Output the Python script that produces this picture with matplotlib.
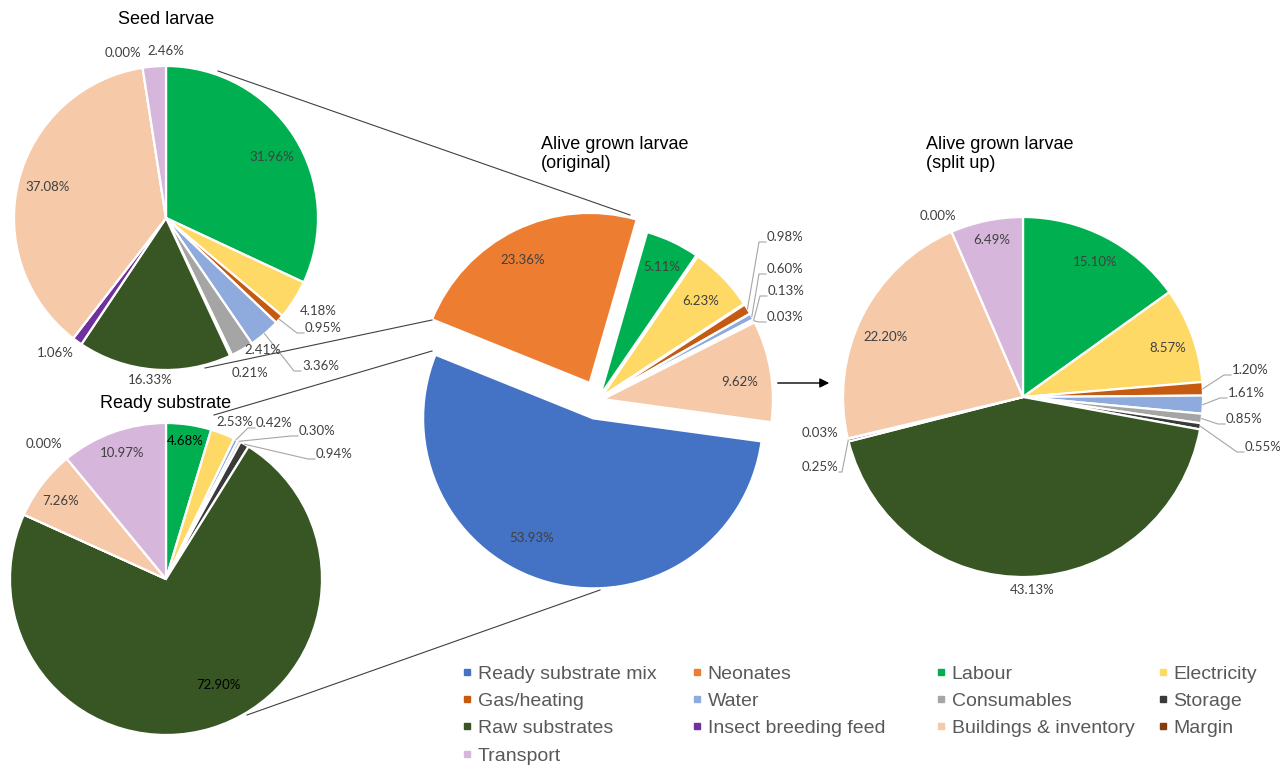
import numpy as np
import matplotlib
matplotlib.use("Agg")
import matplotlib.pyplot as plt
from matplotlib.lines import Line2D
from matplotlib.legend import Legend

W, H = 1280, 766

# cost categories, in the order the slices are drawn (clockwise)
categories = ["Ready substrate mix", "Neonates", "Labour", "Electricity", "Gas/heating",
              "Water", "Consumables", "Storage", "Raw substrates", "Insect breeding feed",
              "Other", "Buildings & inventory", "Margin", "Transport"]
colors = ["#4472C4", "#ED7D31", "#00B050", "#FFD966", "#C55A11",
          "#8FAADC", "#A5A5A5", "#3A3A3A", "#375623", "#7030A0",
          "#BDD7EE", "#F6C9A9", "#843C0C", "#D6B7DB"]

# shares in %  (None = category not in that product)
seed_larvae = [None, None, 31.96, 4.18, 0.95, 3.36, 2.41, 0.21, 16.33, 1.06, None, 37.08, 0.00, 2.46]
ready_substrate = [None, None, 4.68, 2.53, None, 0.42, 0.30, 0.94, 72.90, None, None, 7.26, 0.00, 10.97]
alive_original = [53.93, 23.36, 5.11, 6.23, 0.98, 0.60, 0.13, None, None, None, 0.03, 9.62, None, None]
alive_split = [None, None, 15.10, 8.57, 1.20, 1.61, 0.85, 0.55, 43.13, 0.25, 0.03, 22.20, 0.00, 6.49]

legend_order = ["Ready substrate mix", "Neonates", "Labour", "Electricity",
                "Gas/heating", "Water", "Consumables", "Storage",
                "Raw substrates", "Insect breeding feed", "Buildings & inventory", "Margin",
                "Transport"]

# label placement in pixels (x, y[, leader side])
seed_lbl = {"Labour": (272, 157), "Electricity": (318, 311), "Gas/heating": (305, 328, "L"),
            "Water": (302, 366, "L"), "Consumables": (263, 350), "Storage": (250, 373),
            "Raw substrates": (150, 380), "Insect breeding feed": (55, 353),
            "Buildings & inventory": (48, 187), "Margin": (123, 53), "Transport": (166, 51)}
ready_lbl = {"Labour": (185, 441), "Electricity": (235, 422), "Water": (256, 423, "L"),
             "Consumables": (299, 431, "L"), "Storage": (316, 454, "L"),
             "Raw substrates": (218, 685), "Buildings & inventory": (61, 501),
             "Margin": (44, 444), "Transport": (122, 453)}
orig_lbl = {"Ready substrate mix": (532, 538), "Neonates": (523, 260), "Labour": (662, 267),
            "Electricity": (701, 301), "Gas/heating": (767, 237, "L"), "Water": (767, 269, "L"),
            "Consumables": (768, 291, "L"), "Other": (767, 317, "L"),
            "Buildings & inventory": (740, 382)}
split_lbl = {"Labour": (1095, 262), "Electricity": (1168, 348), "Gas/heating": (1232, 370, "L"),
             "Water": (1228, 393, "L"), "Consumables": (1226, 419, "L"), "Storage": (1245, 447, "L"),
             "Raw substrates": (1032, 590), "Insect breeding feed": (838, 467, "R"),
             "Other": (820, 433), "Buildings & inventory": (886, 337), "Margin": (938, 216),
             "Transport": (992, 240)}

label_font = "Lato"
title_font = "Liberation Sans"

fig = plt.figure(figsize=(W / 100, H / 100), dpi=100)
ax = fig.add_axes([0, 0, 1, 1])


def px(x, y):
    return x, H - y


def draw_pie(values, cx, cy, r, start, labels, explode=None, dark=()):
    vals = [0 if v is None else v for v in values]
    wedges, _ = ax.pie(vals, colors=colors, radius=r, center=px(cx, cy), startangle=start,
                       counterclock=False, explode=explode, frame=True,
                       wedgeprops=dict(edgecolor="white", linewidth=1.6))
    for name, spec in labels.items():
        i = categories.index(name)
        txt = f"{values[i]:.2f}%"
        tc = "black" if name in dark else "#404040"
        x, y = px(spec[0], spec[1])
        if len(spec) == 2:
            ax.text(x, y, txt, ha="center", va="center", fontsize=9.5, color=tc,
                    family=label_font)
            continue
        w = wedges[i]
        tm = np.deg2rad((w.theta1 + w.theta2) / 2)
        ex = w.center[0] + w.r * np.cos(tm)
        ey = w.center[1] + w.r * np.sin(tm)
        if spec[2] == "L":
            xs = [ex, x - 8, x - 1]
            ha = "left"
        else:
            xs = [ex, x + 4, x + 1]
            ha = "right"
        ys = [ey, y - 5, y - 5]
        ax.plot(xs, ys, color="#A6A6A6", lw=0.8)
        ax.text(x, y, txt, ha=ha, va="center", fontsize=9.5, color=tc, family=label_font)
    return wedges


# connector lines between the pies
connectors = [((218, 71), (630, 215)), ((205, 368), (432, 320)),
              ((214, 415), (432, 351)), ((247, 715), (600, 590))]
for a, b in connectors:
    ax.plot([a[0], b[0]], [H - a[1], H - b[1]], color="#404040", lw=0.8)

draw_pie(seed_larvae, 166, 218, 152, 90, seed_lbl)
draw_pie(ready_substrate, 166, 579, 156, 90, ready_lbl, dark=("Labour", "Raw substrates"))
expl = [19 if v is not None and v > 20 else 5 for v in alive_original]
draw_pie(alive_original, 598, 400, 170, -7.8, orig_lbl, explode=expl)
draw_pie(alive_split, 1023, 397, 180, 90, split_lbl)

ax.annotate("", xy=px(832, 383), xytext=px(775, 383),
            arrowprops=dict(arrowstyle="-|>", color="black", lw=1, mutation_scale=14))

ax.text(*px(166, 20), "Seed larvae", ha="center", va="center", fontsize=13, family=title_font)
ax.text(*px(166, 404), "Ready substrate", ha="center", va="center", fontsize=13, family=title_font)
ax.text(*px(541, 154), "Alive grown larvae\n(original)", ha="left", va="center", fontsize=13,
        family=title_font, linespacing=1.2)
ax.text(*px(926, 154), "Alive grown larvae\n(split up)", ha="left", va="center", fontsize=13,
        family=title_font, linespacing=1.2)

# legend: 4 columns, filled row by row
col_x = [464, 694, 938, 1160]
for c in range(4):
    names = legend_order[c::4]
    handles = [Line2D([], [], marker="s", linestyle="", markersize=5,
                      color=colors[categories.index(n)]) for n in names]
    leg = Legend(ax, handles, names, loc="upper left", bbox_to_anchor=px(col_x[c], 665),
                 bbox_transform=ax.transData, frameon=False, borderpad=0, borderaxespad=0,
                 handlelength=0.3, handletextpad=0.4, labelspacing=0.5,
                 prop=dict(family=title_font, size=14), labelcolor="#595959")
    ax.add_artist(leg)

ax.set_xlim(0, W)
ax.set_ylim(0, H)
ax.set_aspect("equal")
ax.axis("off")

fig.savefig("out.png", dpi=100, facecolor="white")
